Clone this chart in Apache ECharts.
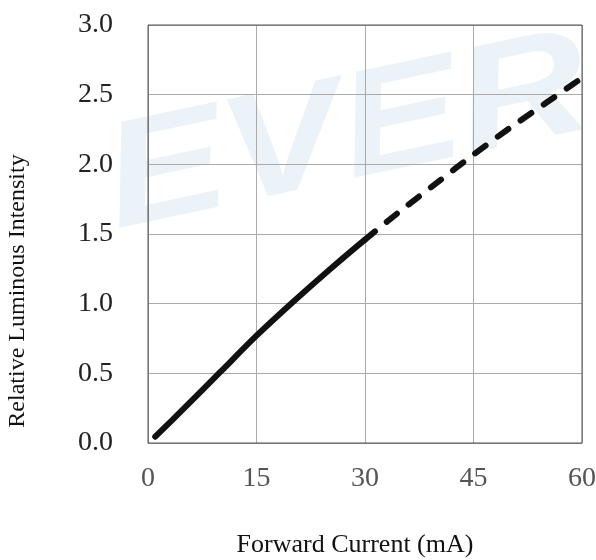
<!DOCTYPE html>
<html><head><meta charset="utf-8">
<script src="https://cdn.jsdelivr.net/npm/echarts@6/dist/echarts.min.js"></script>
<style>html,body{margin:0;padding:0;background:#fff}#c{width:596px;height:560px}</style>
</head><body><div id="c"></div>
<script>
const xTicks = [0, 15, 30, 45, 60];
const yTicks = [0.0, 0.5, 1.0, 1.5, 2.0, 2.5, 3.0];
const solidCurrent = [1, 5, 10, 15, 20, 25, 30];
const solidIntensity = [0.045, 0.25, 0.51, 0.77, 1.01, 1.24, 1.46];
const dashCurrent = [30, 35, 40, 45, 50, 55, 60];
const dashIntensity = [1.46, 1.67, 1.87, 2.07, 2.26, 2.44, 2.62];
const xTitle = 'Forward Current (mA)';
const yTitle = 'Relative Luminous Intensity';

const chart = echarts.init(document.getElementById('c'), null, {renderer: 'canvas'});
const serif = '"Liberation Serif", "DejaVu Serif", serif';
chart.setOption({
  animation: false,
  backgroundColor: '#fff',
  graphic: [{
    type: 'text', left: 92, top: -100, z: 0, silent: true,
    rotation: 0.21, scaleX: 1.2,
    style: {text: 'EVERLIGHT', font: 'italic bold 150px "Liberation Sans", sans-serif', fill: 'rgba(190,215,235,0.3)'}
  }, {
    type: 'text', x: 18, y: 291, rotation: Math.PI / 2, silent: true,
    style: {text: yTitle, font: '24px ' + serif, fill: '#111', align: 'center', verticalAlign: 'middle'}
  }, {
    type: 'text', x: 355, y: 545, silent: true,
    style: {text: xTitle, font: '26px ' + serif, fill: '#111', align: 'center', verticalAlign: 'middle'}
  }],
  grid: {left: 148, right: 14, top: 25, bottom: 117, show: true, borderColor: '#555', borderWidth: 1, z: 1,
         containLabel: false, outerBoundsMode: 'none'},
  xAxis: {
    type: 'value', min: 0, max: 60, interval: 15,
    axisLine: {show: true, lineStyle: {color: '#999'}}, axisTick: {show: false},
    axisLabel: {fontFamily: serif, fontSize: 28, color: '#555', margin: 22,
      formatter: v => xTicks.includes(v) ? String(v) : ''},
    splitLine: {show: true, lineStyle: {color: '#aaa', width: 1}}
  },
  yAxis: {
    type: 'value', min: 0, max: 3, interval: 0.5,
    axisLine: {show: true, lineStyle: {color: '#999'}}, axisTick: {show: false},
    axisLabel: {fontFamily: serif, fontSize: 28, color: '#222', margin: 35,
      formatter: v => yTicks.some(t => Math.abs(t - v) < 1e-9) ? v.toFixed(1) : ''},
    splitLine: {show: true, lineStyle: {color: '#aaa', width: 1}}
  },
  series: [
    {type: 'line', data: solidCurrent.map((x, i) => [x, solidIntensity[i]]), smooth: 0.3,
     showSymbol: false, z: 3, lineStyle: {color: '#111', width: 6, cap: 'round'}},
    {type: 'line', data: dashCurrent.map((x, i) => [x, dashIntensity[i]]), smooth: 0.3,
     showSymbol: false, z: 3, lineStyle: {color: '#111', width: 6, type: [13, 15], cap: 'round'}}
  ]
});
</script></body></html>
